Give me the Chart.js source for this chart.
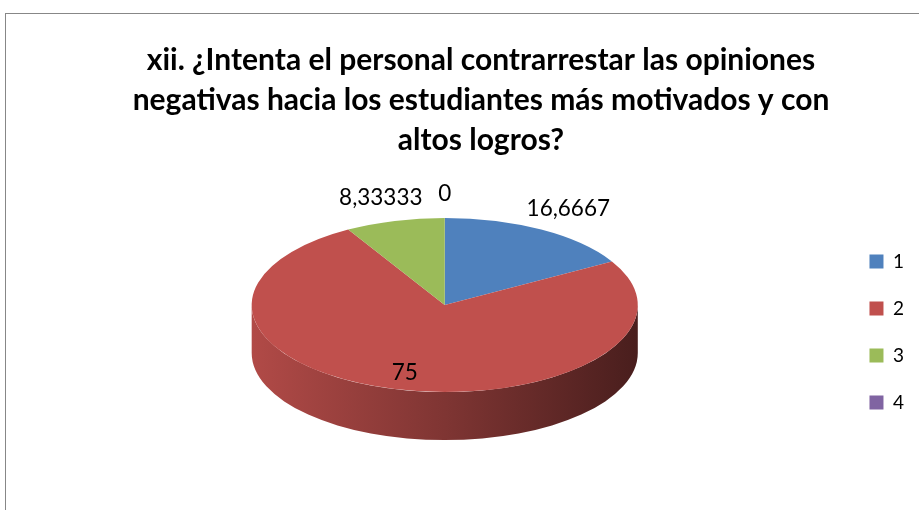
<!DOCTYPE html>
<html>
<head>
<meta charset="utf-8">
<script src="https://cdn.jsdelivr.net/npm/chart.js@4/dist/chart.umd.min.js"></script>
<style>
  html, body { margin: 0; padding: 0; background: #fff; }
  #wrap { position: relative; width: 919px; height: 510px; overflow: hidden; }
</style>
</head>
<body>
<div id="wrap"><canvas id="pie"></canvas></div>
<script>
// chart data
const titleLines = [
  'xii. ¿Intenta el personal contrarrestar las opiniones',
  'negativas hacia los estudiantes más motivados y con',
  'altos logros?'
];
const categories = ['1', '2', '3', '4'];
const values = [16.6667, 75, 8.33333, 0];
const sliceColors = ['#4F81BD', '#C0504D', '#9BBB59', '#8064A2'];

// look of the fake 3D disc
const STRETCH_X = 1.43;  // horizontal radius / library radius
const STRETCH_Y = 0.645; // vertical radius / library radius
const DEPTH = 48;

function shade(hex, f) {
  const n = parseInt(hex.slice(1), 16);
  const r = Math.round(((n >> 16) & 255) * f);
  const g = Math.round(((n >> 8) & 255) * f);
  const b = Math.round((n & 255) * f);
  return `rgb(${r},${g},${b})`;
}

// frame around the chart (cropped on the right and bottom like the source)
const framePlugin = {
  id: 'frame',
  beforeDraw(chart) {
    const ctx = chart.ctx;
    ctx.save();
    ctx.strokeStyle = '#878787';
    ctx.lineWidth = 1;
    ctx.strokeRect(5.5, 13.5, 2000, 2000);
    ctx.restore();
  }
};

// squash the pie into an ellipse and give it a side wall
const pie3dPlugin = {
  id: 'pie3d',
  beforeDatasetsDraw(chart) {
    const arcs = chart.getDatasetMeta(0).data;
    if (!arcs.length) return;
    const { x, y, outerRadius } = arcs[0];
    const rx = outerRadius * STRETCH_X;
    const ry = outerRadius * STRETCH_Y;
    const ctx = chart.ctx;

    ctx.save();
    arcs.forEach((arc, i) => {
      const a0 = Math.max(arc.startAngle, 0);
      const a1 = Math.min(arc.endAngle, Math.PI);
      if (a1 <= a0) return;
      const base = sliceColors[i];
      const grad = ctx.createLinearGradient(x - rx, 0, x + rx, 0);
      grad.addColorStop(0, shade(base, 0.92));
      grad.addColorStop(0.5, shade(base, 0.66));
      grad.addColorStop(1, shade(base, 0.38));
      ctx.beginPath();
      ctx.ellipse(x, y, rx, ry, 0, a0, a1);
      ctx.ellipse(x, y + DEPTH, rx, ry, 0, a1, a0, true);
      ctx.closePath();
      ctx.fillStyle = grad;
      ctx.fill();
    });
    ctx.restore();

    ctx.save();
    ctx.translate(x, y);
    ctx.scale(STRETCH_X, STRETCH_Y);
    ctx.translate(-x, -y);
  },
  afterDatasetsDraw(chart) {
    chart.ctx.restore();

    // value labels
    const arcs = chart.getDatasetMeta(0).data;
    const ctx = chart.ctx;
    ctx.save();
    ctx.font = '22.5px Lato';
    ctx.fillStyle = '#000';
    ctx.textAlign = 'center';
    ctx.textBaseline = 'middle';
    arcs.forEach((arc, i) => {
      const { x, y, outerRadius, startAngle, endAngle } = arc;
      const mid = (startAngle + endAngle) / 2;
      const f = values[i] > 50 ? 0.8 : 1.28;
      const lx = x + Math.cos(mid) * outerRadius * STRETCH_X * f;
      const ly = y + Math.sin(mid) * outerRadius * STRETCH_Y * f;
      ctx.fillText(String(values[i]).replace('.', ','), lx, ly);
    });
    ctx.restore();
  }
};

document.addEventListener('DOMContentLoaded', () => {
  const canvas = document.getElementById('pie');

  new Chart(canvas, {
    type: 'pie',
    data: {
      labels: categories,
      datasets: [{
        data: values,
        backgroundColor: sliceColors,
        borderWidth: 0,
        hoverOffset: 0
      }]
    },
    options: {
      responsive: true,
      maintainAspectRatio: false,
      animation: false,
      layout: { padding: { left: 48, right: 5, bottom: 70 } },
      plugins: {
        title: {
          display: true,
          text: titleLines,
          color: '#000',
          font: { family: 'Lato', weight: 'bold', size: 30, lineHeight: '40px' },
          padding: { top: 40, bottom: 10 }
        },
        legend: {
          display: true,
          position: 'right',
          align: 'end',
          labels: {
            boxWidth: 14,
            boxHeight: 14,
            padding: 28,
            color: '#000',
            font: { family: 'Lato', size: 19 }
          }
        },
        tooltip: { enabled: false }
      }
    },
    plugins: [framePlugin, pie3dPlugin]
  });
});
</script>
</body>
</html>
